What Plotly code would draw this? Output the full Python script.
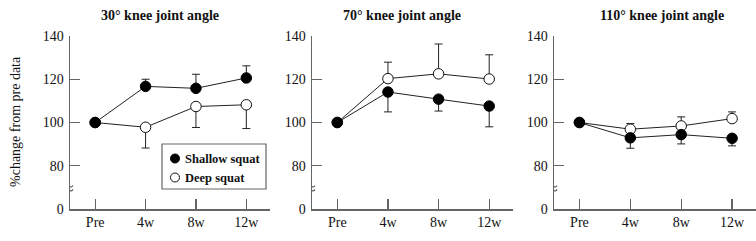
import plotly.graph_objects as go

categories = ["Pre", "4w", "8w", "12w"]
panel_titles = ["30° knee joint angle", "70° knee joint angle", "110° knee joint angle"]
legend_names = ["Shallow squat", "Deep squat"]

# Shallow squat means and SD (per panel)
shallow_30 = [100, 116.7, 115.8, 120.6]
shallow_30_err = [0, 3.3, 6.5, 5.6]
deep_30 = [100, 97.8, 107.4, 108.2]
deep_30_err = [0, 9.6, 9.7, 11.0]

shallow_70 = [100, 114.1, 110.8, 107.6]
shallow_70_err = [0, 9.2, 5.5, 9.6]
deep_70 = [100, 120.3, 122.5, 120.1]
deep_70_err = [0, 7.6, 13.8, 11.2]

shallow_110 = [100, 92.9, 94.4, 92.7]
shallow_110_err = [0, 4.8, 4.3, 3.5]
deep_110 = [100, 96.9, 98.4, 101.8]
deep_110_err = [0, 2.6, 4.2, 3.1]

# y-axis is broken: the "0" label sits one step below 80
ytick_pos = [60, 80, 100, 120, 140]
ytick_text = ["0", "80", "100", "120", "140"]

# which direction the error bar points for each series (+1 up, -1 down)
panels = [
    (shallow_30, shallow_30_err, +1, deep_30, deep_30_err, -1),
    (shallow_70, shallow_70_err, -1, deep_70, deep_70_err, +1),
    (shallow_110, shallow_110_err, -1, deep_110, deep_110_err, +1),
]

W, H = 756, 241
x_doms = [(70 / W, 270 / W), (312 / W, 513 / W), (554 / W, 756 / W)]
y_dom = (1 - 209 / H, 1 - 36 / H)
title_x = [160, 402, 662]

FONT = "Liberation Serif"
AXC = "#666666"
TXT = "#111111"
xs = list(range(len(categories)))

fig = go.Figure()


def err(vals, direction):
    up = vals if direction > 0 else [0] * len(vals)
    dn = vals if direction < 0 else [0] * len(vals)
    return dict(type="data", symmetric=False, array=up, arrayminus=dn,
                color="#222222", thickness=1, width=4)


for i, (sh, she, shd, dp, dpe, dpd) in enumerate(panels):
    xa = "x" if i == 0 else f"x{i+1}"
    ya = "y" if i == 0 else f"y{i+1}"
    fig.add_trace(go.Scatter(
        x=xs, y=dp, mode="lines+markers", xaxis=xa, yaxis=ya,
        line=dict(color="#222222", width=1),
        marker=dict(symbol="circle", size=10.5, color="white",
                    line=dict(color="#111111", width=1)),
        error_y=err(dpe, dpd), showlegend=False, cliponaxis=False))
    fig.add_trace(go.Scatter(
        x=xs, y=sh, mode="lines+markers", xaxis=xa, yaxis=ya,
        line=dict(color="#222222", width=1),
        marker=dict(symbol="circle", size=10.5, color="black",
                    line=dict(color="black", width=1)),
        error_y=err(she, shd), showlegend=False, cliponaxis=False))

# legend drawn on a full-page axis pair in pixel units
LX, LY = [175, 175], [158.5, 177.5]
fig.add_trace(go.Scatter(x=[LX[0]], y=[LY[0]], mode="markers", xaxis="x4", yaxis="y4",
                         marker=dict(size=9, color="black", line=dict(color="black", width=1)),
                         showlegend=False, hoverinfo="skip", cliponaxis=False))
fig.add_trace(go.Scatter(x=[LX[1]], y=[LY[1]], mode="markers", xaxis="x4", yaxis="y4",
                         marker=dict(size=9, color="white", line=dict(color="#111111", width=1)),
                         showlegend=False, hoverinfo="skip", cliponaxis=False))

layout = dict(
    template="none",
    width=W, height=H, margin=dict(l=0, r=0, t=0, b=0, autoexpand=False),
    paper_bgcolor="white", plot_bgcolor="rgba(0,0,0,0)",
    font=dict(family=FONT, size=14, color=TXT),
    showlegend=False,
    xaxis4=dict(domain=[0, 1], range=[0, W], visible=False, fixedrange=True,
                anchor="y4", automargin=False),
    yaxis4=dict(domain=[0, 1], range=[H, 0], visible=False, fixedrange=True,
                anchor="x4", automargin=False),
)
annotations = []
shapes = [dict(type="rect", xref="paper", yref="paper",
               x0=162 / W, x1=266 / W, y0=1 - 189 / H, y1=1 - 144 / H,
               line=dict(color=AXC, width=1.2), fillcolor="white", layer="below")]
for k, name in enumerate(legend_names):
    annotations.append(dict(text=f"<b>{name}</b>", x=183 / W, y=1 - LY[k] / H,
                            xref="paper", yref="paper", xanchor="left", yanchor="middle",
                            showarrow=False, font=dict(family=FONT, size=12.5, color=TXT)))

for i in range(3):
    xk = "xaxis" if i == 0 else f"xaxis{i+1}"
    yk = "yaxis" if i == 0 else f"yaxis{i+1}"
    xr = "x" if i == 0 else f"x{i+1}"
    yr = "y" if i == 0 else f"y{i+1}"
    layout[xk] = dict(domain=list(x_doms[i]), anchor=yr, range=[-0.5, 3.47],
                      tickmode="array", tickvals=xs, ticktext=categories,
                      ticks="inside", ticklen=10, tickwidth=1.3, tickcolor=AXC,
                      showline=True, linecolor=AXC, linewidth=1.5, automargin=False,
                      showgrid=False, zeroline=False, fixedrange=True,
                      tickfont=dict(family=FONT, size=14, color=TXT))
    layout[yk] = dict(domain=list(y_dom), anchor=xr, range=[60, 140],
                      tickmode="array", tickvals=ytick_pos, ticktext=ytick_text,
                      ticks="inside", ticklen=10, tickwidth=1.3, tickcolor=AXC,
                      showline=True, linecolor=AXC, linewidth=1.5, automargin=False,
                      showgrid=False, zeroline=False, fixedrange=True,
                      ticklabelstandoff=2,
                      tickfont=dict(family=FONT, size=14, color=TXT))
    annotations.append(dict(text=f"<b>{panel_titles[i]}</b>", x=title_x[i] / W, y=1 - 15 / H,
                            xref="paper", yref="paper", xanchor="center", yanchor="middle",
                            showarrow=False, font=dict(family=FONT, size=14, color=TXT)))
    # axis break: white gap plus two small squiggles
    shapes.append(dict(type="rect", xref=xr, yref=yr, xsizemode="pixel", xanchor=-0.5,
                       x0=-3, x1=3, y0=68.6, y1=70.4, fillcolor="white",
                       line=dict(width=0), layer="above"))
    for yv in (70.4, 68.6):
        shapes.append(dict(type="path", xref=xr, yref=yr, xsizemode="pixel", ysizemode="pixel",
                           xanchor=-0.5, yanchor=yv,
                           path="M -3,-1 Q -1.5,1.5 0,0 Q 1.5,-1.5 3,1",
                           line=dict(color=AXC, width=1.2), layer="above"))

annotations.append(dict(text="%change from pre data", x=15 / W, y=1 - 122 / H,
                        xref="paper", yref="paper", xanchor="center", yanchor="middle",
                        showarrow=False, textangle=-90,
                        font=dict(family=FONT, size=14, color=TXT)))
layout["annotations"] = annotations
layout["shapes"] = shapes
fig.update_layout(**layout)
fig.write_html("out.html", config={"displayModeBar": False, "staticPlot": True},
               post_script="document.body.style.margin='0';document.body.style.overflow='hidden';")
